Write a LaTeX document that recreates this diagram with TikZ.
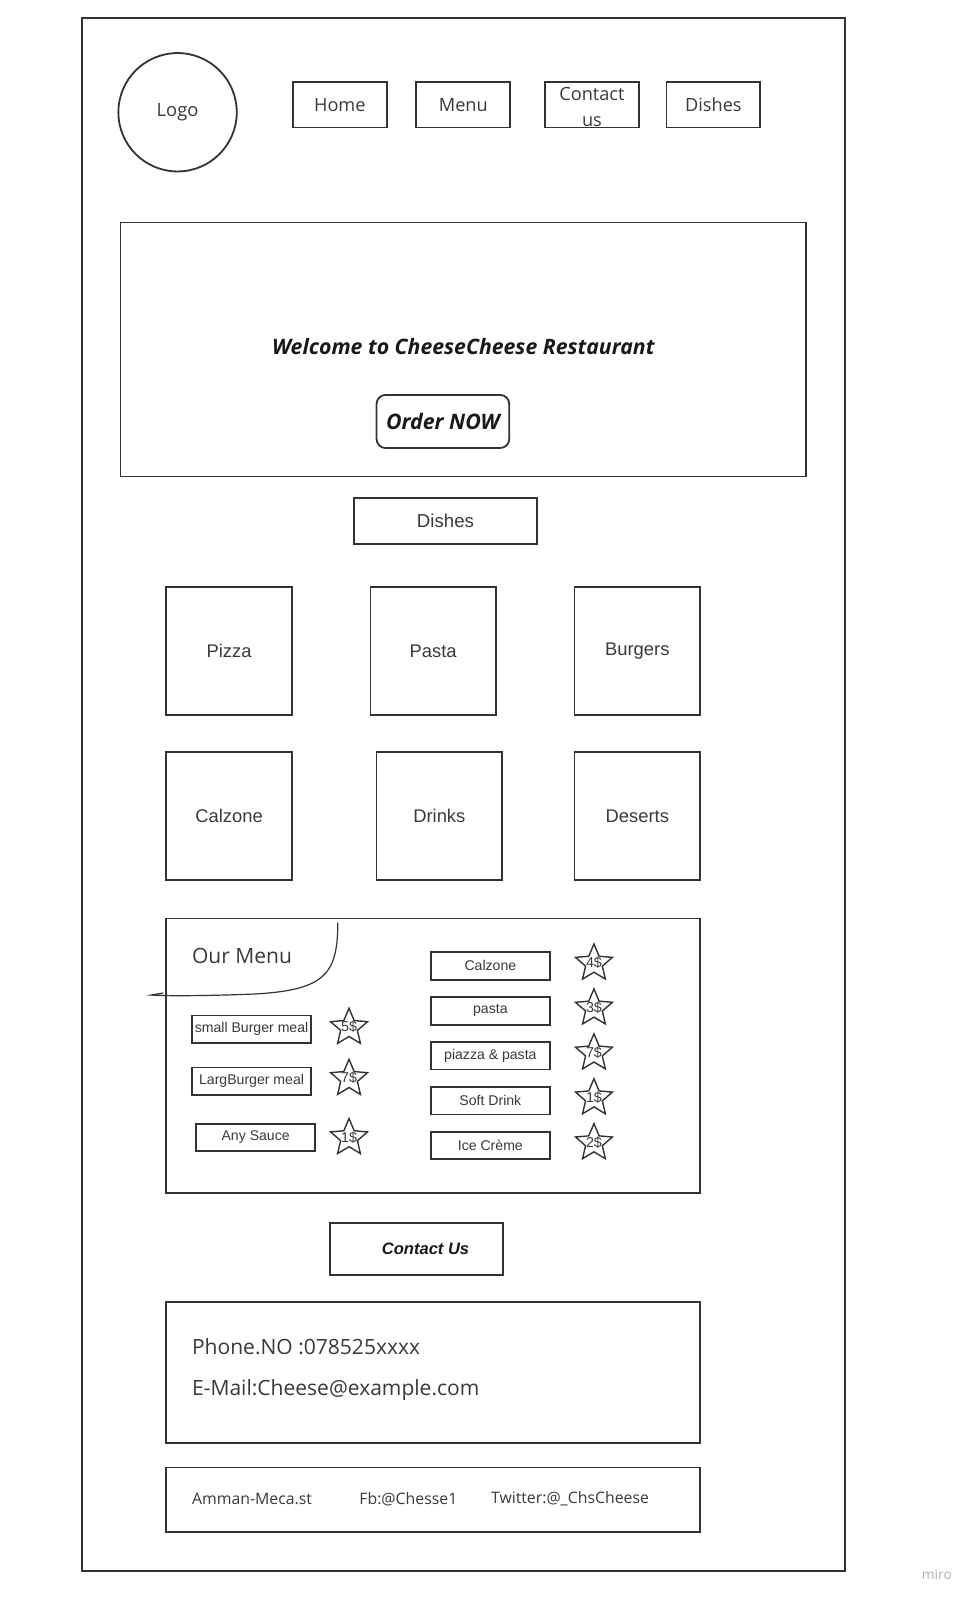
\documentclass[tikz,border=0pt]{standalone}
\usepackage{fontspec}
\setmainfont{Open Sans}
\newfontfamily\arial{Liberation Sans}
\usetikzlibrary{shapes.geometric}
\definecolor{edge}{HTML}{333333}
\definecolor{ink}{HTML}{3A3A3A}
\definecolor{faint}{HTML}{B4B4BC}
\newcommand\pricetag[1]{\makebox[0pt]{\raisebox{-0.3em}{#1\$}}}
\tikzset{
  frame/.style={draw=edge, line width=1.8pt},
  navbox/.style={frame, minimum width=92pt, minimum height=45pt, inner sep=0pt, text=ink, font=\fontsize{17.8}{25}\selectfont},
  tile/.style={frame, minimum width=123pt, minimum height=126pt, text=ink, font=\arial\fontsize{18}{21}\selectfont},
  item/.style={frame, minimum width=117pt, minimum height=27pt, inner sep=0pt, text=ink, font=\arial\fontsize{13.8}{16}\selectfont},
  price/.style={draw=edge, line width=1.4pt, star, star points=5, star point ratio=2.2, minimum size=38pt, inner sep=0pt, text height=0pt, text depth=0pt, text=ink, font=\arial\fontsize{14}{15}\selectfont},
  panel/.style={frame, inner sep=0pt},
  plain/.style={text=ink, inner sep=0pt, anchor=west},
}
\begin{document}
\begin{tikzpicture}[x=1pt, y=-1pt, scale=1.0205, transform shape]
  \useasboundingbox[fill=white] (0,0) rectangle (955.4,1568.8);
  \draw[frame] (80,18) rectangle (828,1539);
  \node[text=faint, font=\fontsize{13.5}{15}\selectfont] (miro) at (918,1543) {miro};

  \node[frame, circle, minimum size=116pt, text=ink, font=\fontsize{18}{21}\selectfont] (logo) at (174,110) {Logo};
  \node[navbox] (home) at (333,102.5) {Home};
  \node[navbox] (menu) at (454,102.5) {Menu};
  \node[navbox] (contact) at (580,102.5) {};
  \node[text=ink, font=\fontsize{17.8}{25}\selectfont, align=center, inner sep=0pt] (contacttext) at (580,105) {Contact\\us};
  \node[navbox] (dishes) at (699,102.5) {Dishes};

  \node[panel, minimum width=672pt, minimum height=249pt] (hero) at (454,342.5) {};
  \node[text=black!90, font=\fontsize{20.8}{24}\selectfont\bfseries\itshape] (welcome) at (454,340) {Welcome to CheeseCheese Restaurant};
  \node[frame, rounded corners=9pt, minimum width=130pt, minimum height=52pt, text=black!90, font=\fontsize{20.9}{24}\selectfont\bfseries\itshape] (order) at (434,413) {Order NOW};

  \node[frame, minimum width=179pt, minimum height=45pt, text=ink, font=\arial\fontsize{18.3}{21}\selectfont] (dishhead) at (436.5,510.5) {Dishes};

  \node[tile] (pizza) at (224.5,638) {Pizza};
  \node[tile] (pasta) at (424.5,638) {Pasta};
  \node[tile] (burgers) at (624.5,638) {Burgers};
  \node[tile] (calzone) at (224.5,799.5) {Calzone};
  \node[tile] (drinks) at (430.5,799.5) {Drinks};
  \node[tile] (deserts) at (624.5,799.5) {Deserts};

  \node[panel, minimum width=523pt, minimum height=269pt] (ourmenu) at (424.5,1034.5) {};
  \node[plain, font=\fontsize{20.6}{24}\selectfont] (menutitle) at (188,937) {Our Menu};
  \draw[edge, line width=1.2pt] (331,904) .. controls (331,955) and (318,970) .. (250,974)
    .. controls (200,976) and (160,976) .. (148,975) -- (160,973);

  \foreach \name/\x/\y/\sy/\p [count=\i] in {small Burger meal/246.5/1008.5/1007/5, LargBurger meal/246.5/1059.5/1057/7, Any Sauce/250.5/1114.5/1115/1} {
    \node[item] (left\i) at (\x,\y) {\name};
    \node[price] (lprice\i) at (342,\sy) {\pricetag{\p}};
  }
  \foreach \name/\y/\p [count=\i] in {Calzone/946.5/4, pasta/990.5/3, {piazza \& pasta}/1034.5/7, Soft Drink/1078.5/1, Ice Crème/1122.5/2} {
    \node[item] (right\i) at (480.5,\y) {\name};
    \node[price] (rprice\i) at (582,\y-2.5) {\pricetag{\p}};
  }

  \node[frame, minimum width=170pt, minimum height=51pt, text=black!90, font=\arial\fontsize{16.2}{19}\selectfont\bfseries\itshape] (contactus) at (408,1223.5) {\hspace{18pt}Contact Us};

  \node[panel, minimum width=523pt, minimum height=138pt] (info) at (424.5,1345) {};
  \node[plain, font=\fontsize{20.6}{24}\selectfont] (phone) at (188,1320) {Phone.NO :078525xxxx};
  \node[plain, font=\fontsize{20.6}{24}\selectfont] (mail) at (188,1362) {E-Mail:Cheese@example.com};

  \node[panel, minimum width=523pt, minimum height=63pt] (footer) at (424.5,1469.5) {};
  \node[plain, font=\fontsize{15.5}{18}\selectfont] (city) at (188,1469) {Amman-Meca.st};
  \node[plain, font=\fontsize{15.5}{18}\selectfont] (fb) at (352,1469) {Fb:@Chesse1};
  \node[plain, font=\fontsize{15.5}{18}\selectfont] (twitter) at (481,1469) {Twitter:@\_ChsCheese};
\end{tikzpicture}
\end{document}
